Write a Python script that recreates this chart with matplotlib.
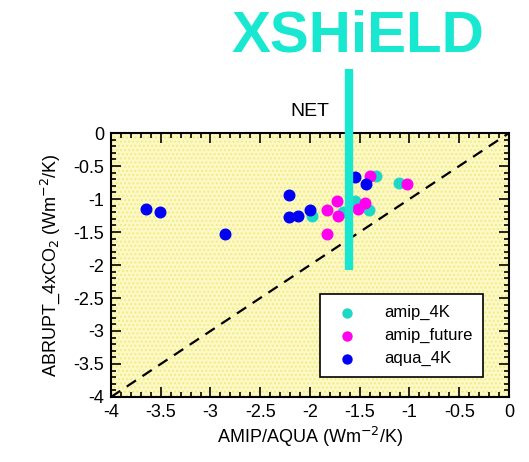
import numpy as np
import matplotlib
matplotlib.use('Agg')
import matplotlib.pyplot as plt
from matplotlib.ticker import MultipleLocator
from matplotlib.lines import Line2D

plt.rcParams['font.family'] = ['Liberation Sans', 'DejaVu Sans']

# feedback values (W m-2 K-1)
amip4k_x = [-1.98, -1.67, -1.55, -1.41, -1.34, -1.11]
amip4k_y = [-1.25, -1.20, -1.03, -1.17, -0.65, -0.76]

future_x = [-1.83, -1.83, -1.73, -1.72, -1.52, -1.45, -1.40, -1.03]
future_y = [-1.16, -1.53, -1.03, -1.26, -1.15, -1.06, -0.65, -0.77]

aqua_x = [-3.65, -3.51, -2.85, -2.21, -2.21, -2.12, -2.00, -1.55, -1.44]
aqua_y = [-1.15, -1.20, -1.53, -0.94, -1.27, -1.25, -1.16, -0.66, -0.77]

fig = plt.figure(figsize=(5.29, 4.62), dpi=100)
ax = fig.add_axes([0.2098, 0.1407, 0.7524, 0.5714])

# dotted yellow background
ax.set_facecolor('#FCF9C6')
bg = plt.Rectangle((0, 0), 1, 1, transform=ax.transAxes, facecolor='none',
                   edgecolor='#F3EB84', hatch='....', linewidth=0, zorder=0)
ax.add_patch(bg)

ax.plot([-4, 0], [-4, 0], 'k--', lw=1.6, dashes=(5, 3.5), zorder=1)

ax.scatter(amip4k_x, amip4k_y, s=58, color='#1ED8C6', label='amip_4K', zorder=3)
ax.scatter(future_x, future_y, s=58, color='#FF00F0', label='amip_future', zorder=3)
ax.scatter(aqua_x, aqua_y, s=58, color='#0000F5', label='aqua_4K', zorder=3)

ax.set_xlim(-4, 0)
ax.set_ylim(-4, 0)
ax.xaxis.set_major_locator(MultipleLocator(0.5))
ax.yaxis.set_major_locator(MultipleLocator(0.5))
ax.xaxis.set_minor_locator(MultipleLocator(0.1))
ax.yaxis.set_minor_locator(MultipleLocator(0.1))
ax.xaxis.set_major_formatter(lambda v, p: '%g' % v)
ax.yaxis.set_major_formatter(lambda v, p: '%g' % v)
ax.tick_params(which='both', direction='in', top=True, right=True, width=1.2)
ax.tick_params(which='major', length=7, labelsize=13, pad=5)
ax.tick_params(which='minor', length=3.5)
for s in ax.spines.values():
    s.set_linewidth(1.5)

ax.set_xlabel('AMIP/AQUA (Wm$^{-2}$/K)', fontsize=13, labelpad=3)
ax.set_ylabel('ABRUPT_4xCO$_2$ (Wm$^{-2}$/K)', fontsize=13, labelpad=8)
ax.set_title('NET', fontsize=14, pad=12)

leg = ax.legend(loc='lower right', bbox_to_anchor=(0.935, 0.075), fontsize=12,
                frameon=True, fancybox=False, edgecolor='black',
                markerscale=0.85, handletextpad=1.2, labelspacing=0.48,
                borderpad=0.65, borderaxespad=0)
leg.get_frame().set_linewidth(1.2)
leg.get_frame().set_facecolor('white')
leg.get_frame().set_alpha(1)

# XSHiELD marker line and label
fig.add_artist(Line2D([0.66, 0.66], [0.416, 0.851], transform=fig.transFigure,
                      color='#18E8D0', lw=6, solid_capstyle='butt', zorder=10))
fig.text(0.676, 0.922, 'XSHiELD', fontsize=42, fontweight='bold',
         color='#18E8D0', ha='center', va='center')

fig.savefig('out.png', dpi=100)
